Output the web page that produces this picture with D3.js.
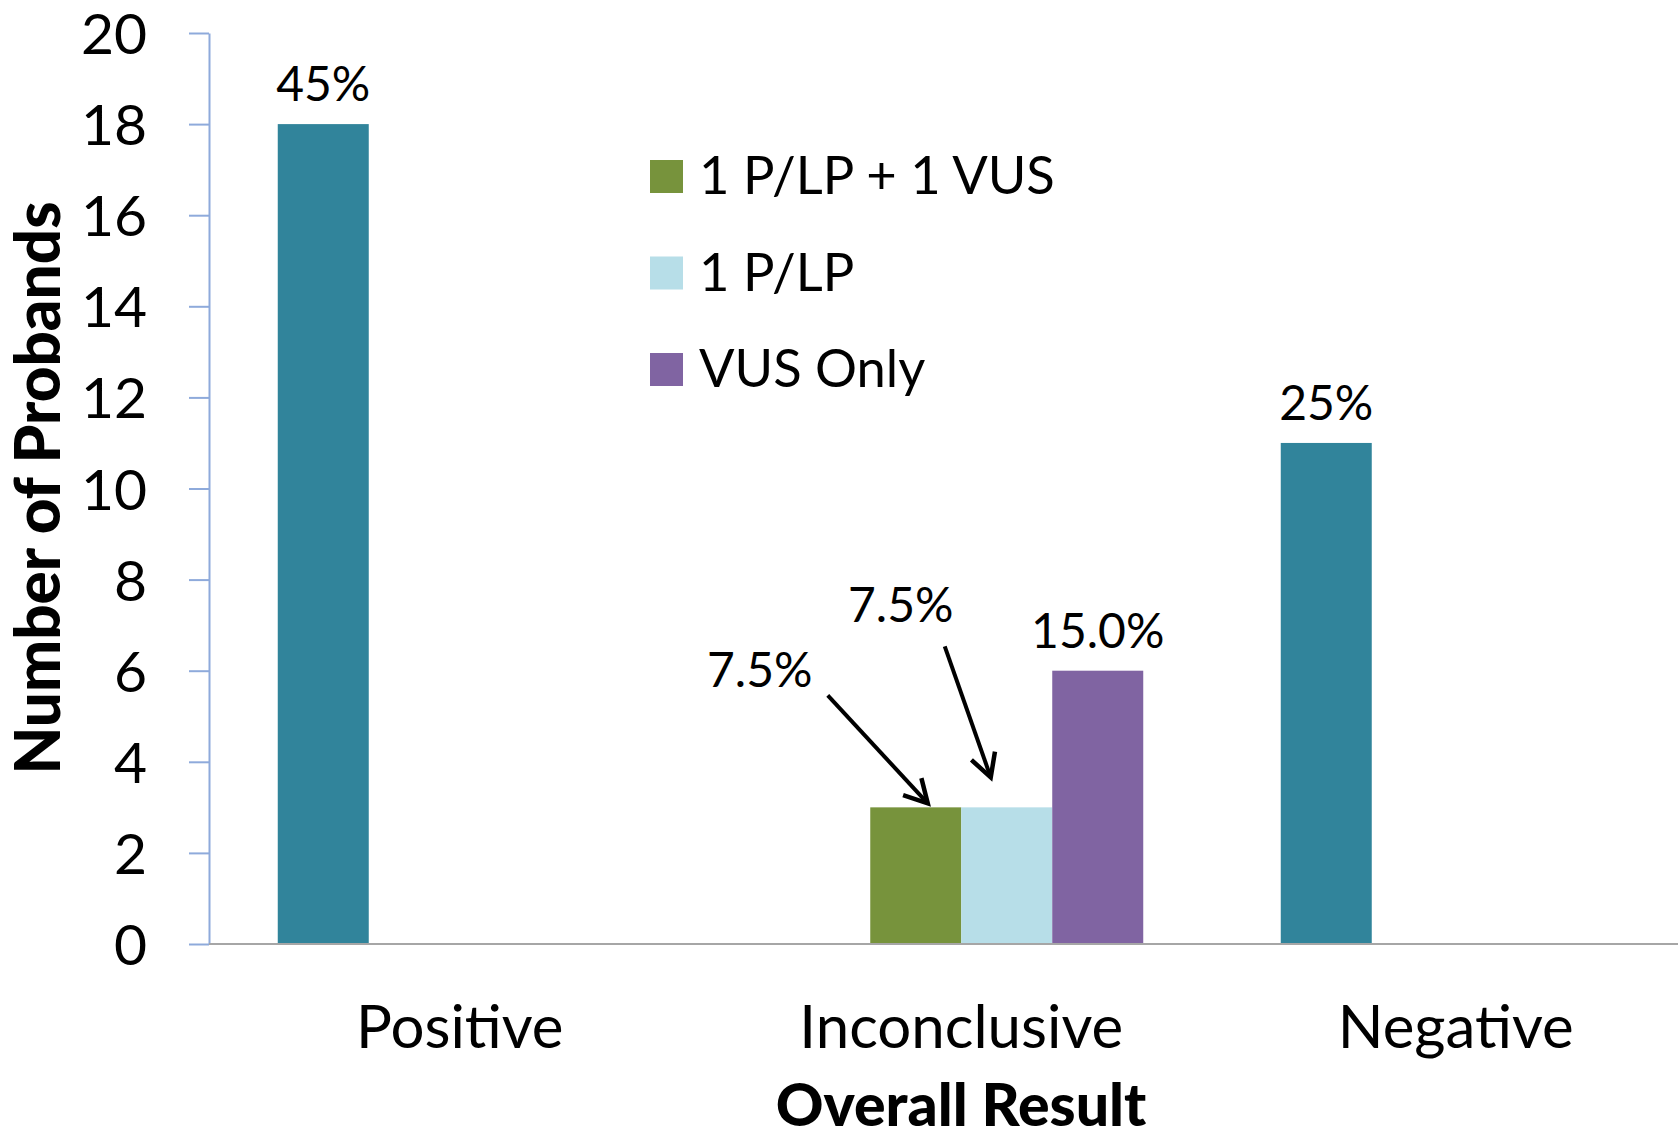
<!DOCTYPE html>
<html>
<head>
<meta charset="utf-8">
<script src="https://cdn.jsdelivr.net/npm/d3@7"></script>
<style>
  html, body { margin: 0; padding: 0; background: #fff; }
  svg { display: block; }
  text { font-family: Lato, "Open Sans", "Liberation Sans", sans-serif; fill: #000; }
</style>
</head>
<body>
<svg id="chart" width="1678" height="1139"></svg>
<script>
// Categories along the x axis
const categories = ["Positive", "Inconclusive", "Negative"];

// Series (one bar slot per series inside each category)
const seriesNames = ["Overall", "1 P/LP + 1 VUS", "1 P/LP", "VUS Only"];
const seriesColors = ["#31849B", "#77933C", "#B7DEE8", "#8064A2"];

// Number of probands per series, aligned with categories
const overallValues = [18, 0, 11];
const plpVusValues  = [0, 3, 0];
const plpValues     = [0, 3, 0];
const vusOnlyValues = [0, 6, 0];

// Percentage labels per series, aligned with categories
const overallLabels = ["45%", "", "25%"];
const plpVusLabels  = ["", "7.5%", ""];
const plpLabels     = ["", "7.5%", ""];
const vusOnlyLabels = ["", "15.0%", ""];

// Y axis ticks
const yTicks = [0, 2, 4, 6, 8, 10, 12, 14, 16, 18, 20];

// Series that appear in the legend
const legendSeries = ["1 P/LP + 1 VUS", "1 P/LP", "VUS Only"];

const seriesValues = [overallValues, plpVusValues, plpValues, vusOnlyValues];
const seriesLabels = [overallLabels, plpVusLabels, plpLabels, vusOnlyLabels];

const rows = [];
seriesNames.forEach((s, si) => {
  categories.forEach((c, ci) => {
    rows.push({ series: s, category: c, value: seriesValues[si][ci], label: seriesLabels[si][ci] });
  });
});

const svg = d3.select("#chart");
const plotLeft = 209;
const plotTop = 33;
const plotBottom = 944;
const categoryStep = 501.5;

const x0 = d3.scaleBand()
  .domain(categories)
  .range([plotLeft, plotLeft + categories.length * categoryStep])
  .paddingInner(0.2742)
  .paddingOuter(0.1371);

const x1 = d3.scaleBand()
  .domain(seriesNames)
  .range([0, x0.bandwidth()]);

const y = d3.scaleLinear().domain([0, 20]).range([plotBottom, plotTop]);

const color = d3.scaleOrdinal().domain(seriesNames).range(seriesColors);

// Y axis
const yAxis = svg.append("g")
  .attr("transform", `translate(${plotLeft},0)`)
  .call(d3.axisLeft(y).tickValues(yTicks).tickSize(20).tickPadding(42).tickSizeOuter(0));
yAxis.select(".domain").attr("stroke", "#8EAADB").attr("stroke-width", 2);
yAxis.selectAll(".tick line").attr("stroke", "#8EAADB").attr("stroke-width", 2);
yAxis.selectAll(".tick text")
  .attr("font-size", 57)
  .attr("font-family", "Lato, sans-serif")
  .attr("fill", "#000")
  .attr("dy", "0.36em");

// Bars
const visible = rows.filter(d => d.value > 0);
svg.append("g").selectAll("rect")
  .data(visible)
  .join("rect")
  .attr("x", d => x0(d.category) + x1(d.series))
  .attr("y", d => y(d.value))
  .attr("width", x1.bandwidth())
  .attr("height", d => y(0) - y(d.value))
  .attr("fill", d => color(d.series));

// X axis baseline
svg.append("line")
  .attr("x1", plotLeft).attr("x2", x0.range()[1])
  .attr("y1", y(0)).attr("y2", y(0))
  .attr("stroke", "#A6A6A6").attr("stroke-width", 2);

// Category labels
svg.append("g").selectAll("text")
  .data(categories)
  .join("text")
  .attr("x", d => x0(d) + x0.bandwidth() / 2 - (d === "Negative" ? 7 : 0))
  .attr("y", 1048)
  .attr("text-anchor", "middle")
  .attr("font-size", 60)
  .text(d => d);

// Value labels: placed above bars, the two small inconclusive ones pulled out with arrows
const labelOffsets = {
  "1 P/LP + 1 VUS|Inconclusive": { dx: -156, dy: -120, arrow: { from: [-88, -112], to: [12, -4] } },
  "1 P/LP|Inconclusive": { dx: -106, dy: -185, arrow: { from: [-62, -161], to: [-16, -30] } }
};

const labelled = rows.filter(d => d.label);
const labelG = svg.append("g");
labelled.forEach(d => {
  const cx = x0(d.category) + x1(d.series) + x1.bandwidth() / 2;
  const top = y(d.value);
  const off = labelOffsets[d.series + "|" + d.category];
  labelG.append("text")
    .attr("x", cx + (off ? off.dx : 0))
    .attr("y", top + (off ? off.dy : -23))
    .attr("text-anchor", "middle")
    .attr("font-size", 48)
    .text(d.label);
  if (off) {
    const [fx, fy] = [cx + off.arrow.from[0], top + off.arrow.from[1]];
    const [tx, ty] = [cx + off.arrow.to[0], top + off.arrow.to[1]];
    const ang = Math.atan2(ty - fy, tx - fx);
    const head = 26, spread = 0.5;
    labelG.append("line")
      .attr("x1", fx).attr("y1", fy).attr("x2", tx).attr("y2", ty)
      .attr("stroke", "#000").attr("stroke-width", 4);
    labelG.append("path")
      .attr("d", `M${tx - head * Math.cos(ang - spread)},${ty - head * Math.sin(ang - spread)}L${tx},${ty}L${tx - head * Math.cos(ang + spread)},${ty - head * Math.sin(ang + spread)}`)
      .attr("fill", "none").attr("stroke", "#000").attr("stroke-width", 4.5)
      .attr("stroke-linejoin", "miter");
  }
});

// Legend
const legend = svg.append("g").attr("transform", "translate(650,160)");
legendSeries.forEach((s, i) => {
  const g = legend.append("g").attr("transform", `translate(0,${i * 96.5})`);
  g.append("rect").attr("width", 33).attr("height", 33).attr("fill", color(s));
  g.append("text")
    .attr("x", 49).attr("y", 34)
    .attr("font-size", 52.5)
    .text(s);
});

// Axis titles
svg.append("text")
  .attr("transform", `translate(60,488) rotate(-90)`)
  .attr("text-anchor", "middle")
  .attr("font-size", 62)
  .attr("font-weight", 900)
  .text("Number of Probands");

svg.append("text")
  .attr("x", 961)
  .attr("y", 1126)
  .attr("text-anchor", "middle")
  .attr("font-size", 59)
  .attr("font-weight", 900)
  .text("Overall Result");
</script>
</body>
</html>
